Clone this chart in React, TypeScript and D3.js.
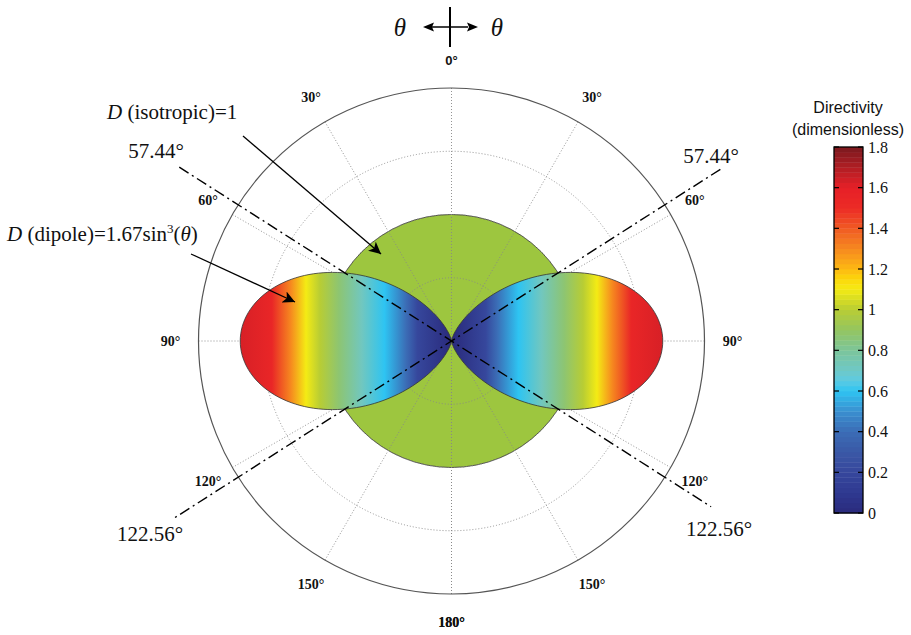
import React from "react";
import * as d3 from "d3";

// ---------- data ----------
const RADIAL_TICKS = [0.5, 1, 1.5, 2];
const ANGLE_TICKS = [0, 30, 60, 90, 120, 150, 180];
const ISO_D = 1;
const DIPOLE_COEF = 1.67;
const DIPOLE_POWER = 3;
const CROSS_ANGLES = [57.44, 122.56];
const CMAP_VALUES = [0, 0.1, 0.2, 0.3, 0.4, 0.5, 0.6, 0.65, 0.7, 0.8, 0.9, 1.0, 1.1, 1.15, 1.2, 1.3, 1.4, 1.5, 1.6, 1.7, 1.8];
const CMAP_COLORS = ["#2a2a7c", "#2f3990", "#36479c", "#3a58a6", "#3b6db6", "#3a8fd0", "#2ec4f2", "#5ccbe3", "#6ec8c8", "#7cc59a", "#94c561", "#b8cd34", "#f4eb14", "#fcd80a", "#fdb913", "#f6891f", "#f05a23", "#ec2b26", "#e62027", "#b01e24", "#7b1a1e"];
// directivity shown across the lobe, by horizontal distance from the origin (radial units)
const LOBE_DIST = [0, 0.27, 0.36, 0.53, 0.71, 0.89, 1.04, 1.15, 1.27, 1.42, 1.69];
const LOBE_VAL = [0, 0.2, 0.4, 0.6, 0.72, 0.87, 1.0, 1.1, 1.3, 1.55, 1.63];
const CBAR_TICKS = [0, 0.2, 0.4, 0.6, 0.8, 1, 1.2, 1.4, 1.6, 1.8];
const ISO_COLOR = "#9dc63f";

const W = 911, H = 635;
const cx = 451.5, cy = 341;
const SERIF = "'Liberation Serif', 'Times New Roman', serif";
const SANS = "'Liberation Sans', Arial, sans-serif";

export default function App() {
  const r = d3.scaleLinear().domain([0, 2]).range([0, 253]);
  const cmap = d3.scaleLinear<string>().domain(CMAP_VALUES).range(CMAP_COLORS).interpolate(d3.interpolateRgb);
  const rad = (deg: number) => (deg * Math.PI) / 180;
  const pos = (deg: number, rr: number): [number, number] => [cx + rr * Math.sin(rad(deg)), cy - rr * Math.cos(rad(deg))];

  const thetas = d3.range(0, 181, 1);
  const lobe = (side: number) =>
    d3
      .lineRadial<number>()
      .angle((t) => side * rad(t))
      .radius((t) => r(DIPOLE_COEF * Math.pow(Math.sin(rad(t)), DIPOLE_POWER)))
      .curve(d3.curveLinearClosed)(thetas) as string;

  const cbarY = d3.scaleLinear().domain([0, 1.8]).range([513, 147]);
  const cbarX0 = 834, cbarW = 29;
  const nBands = 72;
  const bands = d3.range(nBands).map((i) => {
    const v0 = (i / nBands) * 1.8, v1 = ((i + 1) / nBands) * 1.8;
    return { v0, v1, c: cmap((v0 + v1) / 2) };
  });

  const gradMax = LOBE_DIST[LOBE_DIST.length - 1];
  const gradLen = r(gradMax);
  const gradStops = LOBE_DIST.map((d, i) => ({ off: d / gradMax, c: cmap(LOBE_VAL[i]) }));

  const allAngles = Array.from(new Set([...ANGLE_TICKS, ...ANGLE_TICKS.map((a) => -a)]));

  const grid = (
    <g stroke="#888" strokeWidth={0.9} strokeDasharray="1,2" fill="none">
      {RADIAL_TICKS.slice(0, -1).map((t) => (
        <circle key={"c" + t} cx={cx} cy={cy} r={r(t)} />
      ))}
      {allAngles.map((a) => {
        const [x, y] = pos(a, r(2));
        return <line key={"l" + a} x1={cx} y1={cy} x2={x} y2={y} />;
      })}
    </g>
  );

  const crossLine = (deg: number, len1: number, len2: number, key: string) => {
    const [x1, y1] = pos(deg, len1);
    const [x2, y2] = pos(deg + 180, len2);
    return <line key={key} x1={x1} y1={y1} x2={x2} y2={y2} stroke="#000" strokeWidth={1.4} strokeDasharray="11,4,2,4" />;
  };

  return (
    <svg width={W} height={H} style={{ position: "absolute", left: 0, top: 0, background: "#fff" }}>
      <defs>
        <linearGradient id="gR" gradientUnits="userSpaceOnUse" x1={0} y1={0} x2={gradLen} y2={0}>
          {gradStops.map((s, i) => (
            <stop key={i} offset={s.off} stopColor={s.c} />
          ))}
        </linearGradient>
        <linearGradient id="gL" gradientUnits="userSpaceOnUse" x1={0} y1={0} x2={-gradLen} y2={0}>
          {gradStops.map((s, i) => (
            <stop key={i} offset={s.off} stopColor={s.c} />
          ))}
        </linearGradient>
        <marker id="arr" viewBox="0 0 10 10" refX={10} refY={5} markerWidth={12} markerHeight={12} markerUnits="userSpaceOnUse" orient="auto">
          <path d="M0,0 L10,5 L0,10 L2.5,5 Z" fill="#000" />
        </marker>
      </defs>
      <rect x={0} y={0} width={W} height={H} fill="#fff" />

      {/* isotropic circle */}
      <circle cx={cx} cy={cy} r={r(ISO_D)} fill={ISO_COLOR} stroke="#333" strokeWidth={0.8} />
      {grid}
      <circle cx={cx} cy={cy} r={r(2)} fill="none" stroke="#555" strokeWidth={1.2} />

      {/* dipole lobes */}
      <g transform={`translate(${cx},${cy})`}>
        <path d={lobe(1)} fill="url(#gR)" stroke="#333" strokeWidth={0.8} />
        <path d={lobe(-1)} fill="url(#gL)" stroke="#333" strokeWidth={0.8} />
      </g>

      {/* dash-dot lines */}
      {crossLine(-CROSS_ANGLES[0], 323, 308, "d1")}
      {crossLine(CROSS_ANGLES[0], 319, 330, "d2")}

      {/* angle labels */}
      <g fontWeight="bold" fontSize={14} textAnchor="middle" fill="#111">
        {allAngles.map((a) => {
          const [x, y] = pos(a, 281);
          return (
            <text key={"t" + a} x={x} y={y} dominantBaseline="central" fontFamily={a === 0 ? SANS : SERIF} fontSize={a === 0 ? 13 : 14}>
              {Math.abs(a) + "°"}
            </text>
          );
        })}
      </g>

      {/* cross-angle labels */}
      <g fontFamily={SERIF} fontSize={21} textAnchor="middle" fill="#111">
        <text x={156} y={158}>{CROSS_ANGLES[0] + "°"}</text>
        <text x={711} y={163}>{CROSS_ANGLES[0] + "°"}</text>
        <text x={150} y={541}>{CROSS_ANGLES[1] + "°"}</text>
        <text x={719} y={536}>{CROSS_ANGLES[1] + "°"}</text>
      </g>

      {/* annotations */}
      <text x={107} y={119} fontFamily={SERIF} fontSize={21} fill="#111" style={{ whiteSpace: "pre" }}>
        <tspan fontStyle="italic">D</tspan>
        <tspan>{" (isotropic)=1"}</tspan>
      </text>
      <line x1={243} y1={136} x2={381} y2={254} stroke="#000" strokeWidth={1.3} markerEnd="url(#arr)" />
      <text x={7} y={241} fontFamily={SERIF} fontSize={21} fill="#111" style={{ whiteSpace: "pre" }}>
        <tspan fontStyle="italic">D</tspan>
        <tspan>{" (dipole)=1.67sin"}</tspan>
        <tspan fontSize={13} dy={-8}>{String(DIPOLE_POWER)}</tspan>
        <tspan dy={8}>{"("}</tspan>
        <tspan fontStyle="italic">{"θ"}</tspan>
        <tspan>{")"}</tspan>
      </text>
      <line x1={191} y1={254} x2={295} y2={302} stroke="#000" strokeWidth={1.3} markerEnd="url(#arr)" />

      {/* top theta indicator */}
      <g>
        <text x={400} y={36} fontFamily={SERIF} fontStyle="italic" fontSize={25} textAnchor="middle" fill="#111">θ</text>
        <text x={497} y={36} fontFamily={SERIF} fontStyle="italic" fontSize={25} textAnchor="middle" fill="#111">θ</text>
        <line x1={450} y1={7} x2={450} y2={47} stroke="#000" strokeWidth={2} />
        <line x1={432} y1={27} x2={468} y2={27} stroke="#000" strokeWidth={1.6} />
        <path d="M423,27 L434,22.5 L432,27 L434,31.5 Z" fill="#000" />
        <path d="M478,27 L467,22.5 L469,27 L467,31.5 Z" fill="#000" />
      </g>

      {/* colorbar */}
      <g>
        <text x={848} y={113} fontFamily={SANS} fontSize={16} textAnchor="middle" fill="#111">Directivity</text>
        <text x={848} y={135} fontFamily={SANS} fontSize={16} textAnchor="middle" fill="#111">(dimensionless)</text>
        {bands.map((b, i) => (
          <rect key={i} x={cbarX0} y={cbarY(b.v1)} width={cbarW} height={cbarY(b.v0) - cbarY(b.v1) + 0.4} fill={b.c} />
        ))}
        <rect x={cbarX0} y={cbarY(1.8)} width={cbarW} height={cbarY(0) - cbarY(1.8)} fill="none" stroke="#000" strokeWidth={1.3} />
        {CBAR_TICKS.map((t) => (
          <g key={t}>
            <line x1={cbarX0} x2={cbarX0 + 5} y1={cbarY(t)} y2={cbarY(t)} stroke="#000" strokeWidth={1.2} />
            <line x1={cbarX0 + cbarW - 5} x2={cbarX0 + cbarW} y1={cbarY(t)} y2={cbarY(t)} stroke="#000" strokeWidth={1.2} />
            <text x={868} y={cbarY(t)} dominantBaseline="central" fontFamily={SERIF} fontSize={16} fill="#111">
              {String(t)}
            </text>
          </g>
        ))}
      </g>
    </svg>
  );
}
